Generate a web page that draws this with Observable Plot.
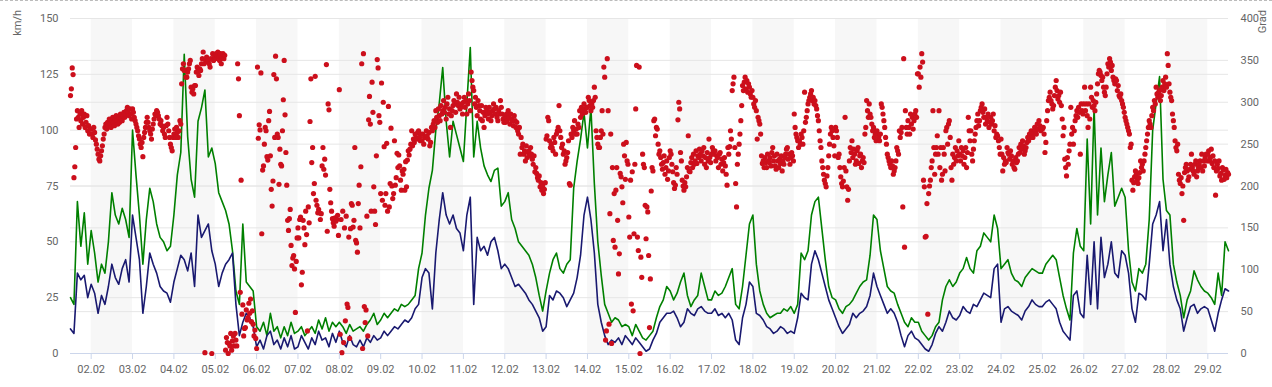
<!DOCTYPE html>
<html><head><meta charset="utf-8">
<script src="https://cdn.jsdelivr.net/npm/d3@7"></script>
<script src="https://cdn.jsdelivr.net/npm/@observablehq/plot@0.6"></script>
<style>
html,body{margin:0;padding:0;background:#fff;}
#wrap{position:relative;width:1272px;height:387px;overflow:hidden;}
#wrap::before{content:"";position:absolute;left:0;right:0;top:0;border-top:1px dashed #bbb;}
svg{display:block;}
</style></head><body><div id="wrap"></div>
<script>
// Day labels (01.02 starts at 12:00, 29.02 ends at 12:00)
const dayLabels = ["01.02","02.02","03.02","04.02","05.02","06.02","07.02","08.02","09.02","10.02","11.02","12.02","13.02","14.02","15.02","16.02","17.02","18.02","19.02","20.02","21.02","22.02","23.02","24.02","25.02","26.02","27.02","28.02","29.02"];
const kmTicks = [0,25,50,75,100,125,150];
const gradTicks = [0,50,100,150,200,250,300,350,400];

// Gusts km/h, every 2 hours
const gustByDay = [
[25,22,68,48,63,40],
[55,45,32,40,36,50,72,62,58,65,60,52],
[100,80,62,40,60,74,68,58,52,50,46,48],
[62,80,90,134,97,78,70,104,110,118,88,92],
[85,72,68,64,58,46,28,22,58,32,30,28],
[12,10,14,8,18,10,12,7,12,8,14,9],
[10,12,8,10,12,9,15,11,16,10,14,12],
[14,12,9,13,10,11,12,10,13,15,18,13],
[15,18,16,18,20,19,22,21,22,24,26,38],
[45,62,74,82,100,112,128,104,88,104,98,92],
[86,112,137,88,104,92,84,80,77,82,83,66],
[68,72,60,56,50,48,46,44,40,34,26,19],
[28,36,42,45,38,36,40,42,74,86,96,108],
[92,110,76,50,35,22,18,14,16,15,12,13],
[12,8,13,10,7,6,8,10,16,21,24,30],
[28,24,27,32,36,26,21,24,26,36,30,24],
[24,28,26,27,30,34,38,22,20,30,44,58],
[62,40,28,22,18,16,17,18,18,20,19,21],
[18,22,45,42,46,62,68,70,56,42,30,25],
[24,20,18,21,22,24,27,30,32,33,44,62],
[60,46,38,30,28,27,22,18,14,12,16,14],
[14,10,8,6,8,12,14,24,30,33,30,32],
[36,38,43,38,36,46,48,54,52,50,62,56],
[38,40,42,36,33,32,30,34,36,38,37,36],
[36,40,42,44,42,34,26,20,15,45,56,48],
[46,96,58,110,62,92,68,80,90,66,70,74],
[70,46,32,28,38,36,40,60,100,112,124,78],
[64,62,40,32,26,16,24,28,37,33,30,28],
[27,25,22,36,26,50,46]
];

// Mean wind km/h, every 2 hours
const meanByDay = [
[11,9,36,33,35,25],
[31,27,18,26,22,30,40,34,31,38,42,32],
[62,52,42,18,30,45,40,36,30,28,27,23],
[32,38,44,42,37,45,30,62,52,55,58,46],
[40,30,36,40,42,45,22,8,14,18,16,12],
[3,6,2,8,10,4,6,2,7,3,8,2],
[3,8,5,2,7,4,10,6,7,3,9,5],
[10,5,3,8,4,3,6,3,7,5,8,6],
[7,10,8,10,12,11,13,15,14,16,20,22],
[34,38,36,20,45,60,72,62,58,62,56,54],
[46,62,70,22,52,46,48,44,50,52,46,38],
[40,38,34,30,31,29,27,24,22,19,16,10],
[12,26,24,28,27,25,21,24,27,34,44,62],
[70,60,45,22,14,8,4,6,5,7,4,8],
[6,4,7,5,3,1,2,6,9,14,16,18],
[18,19,16,12,14,20,18,17,20,21,19,18],
[18,20,17,18,16,18,15,6,4,16,22,32],
[30,18,17,15,12,11,9,10,12,11,9,10],
[9,16,27,25,24,40,46,42,36,30,24,20],
[16,12,9,11,13,18,16,18,19,21,26,36],
[30,26,22,18,20,18,14,8,3,8,10,7],
[6,4,2,1,4,9,12,10,14,19,16,15],
[17,21,19,18,22,21,24,27,26,25,38,40],
[14,20,21,19,18,17,15,19,21,24,22,21],
[21,23,24,22,20,14,10,8,6,26,28,18],
[16,44,22,50,20,52,34,40,50,36,34,46],
[44,36,20,14,27,26,24,40,58,62,68,46],
[60,40,30,24,20,10,16,21,22,18,20,21],
[20,15,10,18,24,29,28]
];

// Wind direction (Grad), every 30 minutes
const dirByDay = [
[308,316,341,333,210,223,246,280,290,282,270,286,278,290,274,282,286,270,276,284,266,272,262,268],
[268,262,258,270,264,255,250,244,238,232,230,236,242,248,256,262,270,274,268,276,272,280,274,270,278,282,276,272,280,284,278,274,282,276,286,280,278,284,288,282,286,290,294,288,284,292,286,280],
[292,288,282,278,274,270,266,260,256,250,246,252,235,258,264,270,276,282,276,270,266,262,256,268,274,280,286,284,290,288,284,280,274,278,272,266,270,262,258,272,282,274,266,258,250,246,242,258],
[262,268,258,270,264,258,266,278,274,322,340,346,338,338,330,330,336,340,346,350,318,312,316,310,320,320,336,342,338,332,340,338,346,352,360,346,1,350,354,348,350,346,342,352,0,358,350,356],
[352,358,356,360,354,350,358,346,354,358,352,356,4,19,13,0,12,9,24,4,15,21,9,24,16,9,346,328,284,73,207,47,58,21,30,31,52,40,43,60,48,65,38,51,35,21,28,18],
[6,342,257,273,267,335,143,219,224,250,270,266,235,231,278,289,236,196,176,206,333,258,355,328,262,258,202,244,226,224,266,303,350,285,240,201,159,147,161,172,129,105,114,117,101,49,110,138],
[150,138,160,163,82,97,159,150,130,170,142,27,175,156,277,328,228,246,191,203,331,183,177,168,172,168,160,167,224,246,220,232,213,345,146,298,291,196,180,170,161,156,152,162,158,160,165,141],
[315,23,160,1,170,13,150,39,164,59,55,139,18,149,179,177,151,159,246,135,132,121,179,201,150,223,346,6,358,56,37,52,164,21,279,307,274,170,324,288,199,170,154,236,351,341,284,276],
[191,323,183,300,247,177,191,251,170,295,175,203,269,200,185,191,254,201,210,239,222,237,224,207,195,218,214,220,195,229,199,231,242,237,244,250,266,248,256,252,262,258,256,264,266,258,254,262],
[254,262,250,258,258,266,260,256,264,248,252,270,266,274,278,270,290,282,276,292,284,278,296,286,290,302,288,294,280,298,306,286,292,270,284,290,296,302,298,288,310,300,296,306,292,294,298,286],
[300,306,294,302,286,298,310,302,290,336,326,318,314,298,306,294,284,302,296,290,280,296,278,288,270,284,294,290,286,280,294,288,278,284,290,298,292,286,294,282,278,290,286,302,294,286,280,276],
[282,276,286,278,290,282,274,286,280,278,272,284,278,270,276,266,262,270,238,258,246,250,238,242,230,248,234,240,242,236,246,238,232,226,236,217,222,215,210,207,212,199,204,195,200,191,196,204],
[256,260,282,278,254,246,250,246,242,258,252,238,262,266,270,296,266,258,246,250,238,242,226,230,234,240,254,203,201,262,258,270,266,278,262,268,262,274,270,290,282,294,286,290,298,292,288,294],
[294,306,302,296,290,298,294,302,318,306,266,258,250,246,246,258,266,290,262,342,330,16,27,352,290,35,167,262,12,222,135,191,127,195,222,159,95,119,215,211,199,180,250,236,208,252,230,226],
[163,139,207,59,217,51,143,226,292,344,139,123,342,0,115,91,238,226,222,177,137,175,169,117,31,89,194,222,218,278,280,260,270,268,250,238,242,234,226,220,228,236,214,222,230,208,218,234],
[242,238,226,217,204,197,201,222,214,279,300,292,240,230,207,200,195,204,199,211,222,260,218,217,228,234,222,238,226,230,242,227,236,234,244,238,230,242,236,246,226,234,222,240,230,256,234,228],
[238,246,242,238,242,230,236,234,222,238,240,226,232,218,228,234,224,214,201,246,238,247,266,256,314,322,330,246,203,175,226,238,250,262,278,296,320,314,324,330,316,326,312,322,318,310,306,314],
[306,298,294,302,290,256,282,278,274,262,236,227,230,222,234,228,222,238,230,228,234,224,240,246,230,236,224,220,238,230,222,232,227,236,218,230,226,234,238,244,246,232,238,226,234,240,236,230],
[286,270,262,258,254,246,254,250,262,258,250,266,312,276,282,290,298,302,306,310,314,302,306,298,302,296,292,284,278,266,254,246,230,222,214,207,203,199,212,222,236,250,262,270,266,258,248,236],
[270,266,258,234,238,222,211,203,199,206,222,282,218,199,183,196,230,246,240,254,234,244,238,226,230,242,246,227,236,238,222,230,234,228,262,270,302,290,282,298,286,282,274,266,270,258,262,254],
[266,262,258,254,262,298,294,286,278,270,258,250,238,234,230,226,222,230,224,214,218,222,230,246,242,238,266,258,264,270,175,352,127,290,270,262,278,270,262,286,274,282,268,278,286,290,282,334],
[334,318,342,330,358,348,207,199,139,140,179,47,191,200,207,222,230,290,246,214,238,246,260,238,290,222,246,207,214,246,238,218,266,270,250,274,278,258,222,207,238,226,234,246,230,242,236,254],
[238,230,246,236,242,226,234,246,222,240,282,266,254,266,238,230,244,254,262,270,278,286,272,278,290,294,298,288,282,292,274,282,278,286,270,276,282,274,278,286,266,272,258,262,260,254,246,238],
[256,238,218,234,226,230,228,246,240,238,232,242,236,226,230,222,220,234,228,230,238,246,240,250,244,254,248,238,242,246,252,258,254,262,258,266,260,258,264,270,266,262,274,268,278,272,266,270],
[268,270,262,240,252,278,290,302,306,312,302,298,292,296,308,318,326,314,304,308,300,312,296,280,260,270,232,222,212,234,226,242,250,294,262,270,250,266,278,284,290,282,294,288,238,298,290,286],
[298,318,290,298,284,270,298,280,318,306,294,302,296,290,300,310,322,334,338,336,332,326,330,318,312,308,318,334,346,342,352,348,338,344,330,326,322,328,326,314,320,308,306,310,302,298,294,288],
[282,278,274,270,266,262,246,250,207,195,204,211,218,214,207,203,210,216,230,222,226,218,230,238,246,254,262,270,278,274,270,284,294,290,302,298,318,310,306,312,314,302,308,318,326,314,322,330],
[318,358,344,322,312,306,302,286,278,270,254,246,242,250,214,207,203,210,191,200,159,216,222,226,218,207,211,220,226,238,222,218,214,226,230,211,218,222,226,230,222,238,218,230,224,234,238,230],
[238,242,230,234,244,227,236,222,230,189,218,226,221,230,212,215,207,222,219,208,213,220,210,216,214]
];

const H = 3600e3;
const K = 150 / 400; // Grad -> km/h scale
const dayStart = k => Date.UTC(2024, 1, 1 + k) + (k === 0 ? 12 * H : 0);

const series = [];
gustByDay.forEach((arr, k) => arr.forEach((g, i) =>
  series.push({t: new Date(dayStart(k) + i * 2 * H), gust: g, mean: meanByDay[k][i]})));
const dirPts = [];
dirByDay.forEach((arr, k) => arr.forEach((d, i) =>
  dirPts.push({t: new Date(dayStart(k) + i * H / 2), dir: d})));

const dayTicks = dayLabels.slice(1).map((l, i) => new Date(Date.UTC(2024, 1, i + 2)));
const bands = dayTicks.filter((d, i) => i % 2 === 0).map(d => ({x1: d, x2: new Date(+d + 24 * H)}));
const grid = [...kmTicks.slice(1), ...gradTicks.slice(1).map(v => v * K)];
const fmt = d3.utcFormat("%d.%m");

const chart = Plot.plot({
  width: 1272, height: 387,
  marginLeft: 70, marginRight: 44, marginTop: 18, marginBottom: 34,
  style: {fontFamily: "Roboto, sans-serif", fontSize: "11px", color: "#666", background: "#fff", overflow: "visible"},
  x: {type: "utc", domain: [new Date(Date.UTC(2024, 1, 1, 12)), new Date(Date.UTC(2024, 1, 29, 12))]},
  y: {domain: [0, 150]},
  marks: [
    Plot.rect(bands, {x1: "x1", x2: "x2", fill: "#f7f7f7"}),
    Plot.ruleY(grid, {stroke: "#e6e6e6", strokeWidth: 1}),
    Plot.ruleY([0], {stroke: "#ccd6eb"}),
    Plot.line(series, {x: "t", y: "gust", stroke: "#008000", strokeWidth: 1.6}),
    Plot.line(series, {x: "t", y: "mean", stroke: "#191970", strokeWidth: 1.6}),
    Plot.dot(dirPts, {x: "t", y: d => d.dir * K, r: 2.6, fill: "#cc0f1c"}),
    Plot.axisY({anchor: "left", ticks: kmTicks, tickSize: 0, tickPadding: 12, label: null, fill: "#666"}),
    Plot.axisY({anchor: "right", ticks: gradTicks.map(v => v * K), tickFormat: v => Math.round(v / K), tickSize: 0, tickPadding: 12, label: null, fill: "#666"}),
    Plot.axisX({ticks: dayTicks, tickFormat: d => fmt(d), tickSize: 6, tickPadding: 6, stroke: "#ccd6eb", fill: "#666", label: null})
  ]
});

const svg = d3.select(chart);
svg.append("text").attr("transform", "translate(21,10) rotate(-90)")
  .attr("text-anchor", "end").attr("fill", "#666").attr("font-size", 11).text("km/h");
svg.append("text").attr("transform", "translate(1266,10) rotate(-90)")
  .attr("text-anchor", "end").attr("fill", "#666").attr("font-size", 11).text("Grad");

document.getElementById("wrap").appendChild(chart);
</script>
</body></html>
